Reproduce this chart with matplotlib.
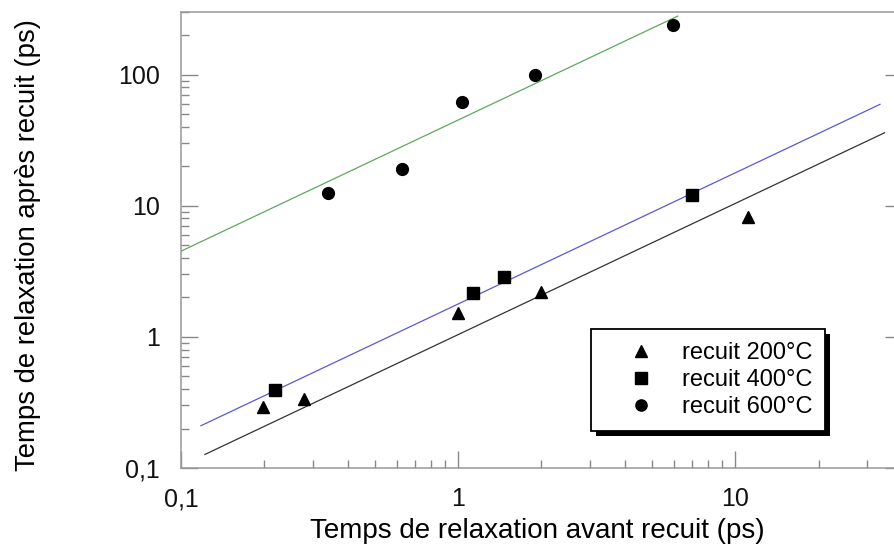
import numpy as np
import matplotlib
matplotlib.use("Agg")
import matplotlib.pyplot as plt
from matplotlib.ticker import LogLocator, FixedLocator, FixedFormatter, NullFormatter
from matplotlib.patches import Rectangle
from matplotlib.transforms import IdentityTransform

plt.rcParams["font.family"] = ["Liberation Sans", "DejaVu Sans"]

# temps de relaxation (ps) avant / après recuit
x_200 = [0.198, 0.279, 1.00, 2.00, 11.1]
y_200 = [0.29, 0.337, 1.51, 2.19, 8.17]

x_400 = [0.218, 1.13, 1.47, 7.01]
y_400 = [0.39, 2.17, 2.85, 12.05]

x_600 = [0.339, 0.628, 1.03, 1.90, 5.97]
y_600 = [12.4, 19.0, 62.0, 99.6, 238.0]

# droites y = a * x (pente 1 en log-log)
fit_x_200 = [0.122, 34.6]
fit_a_200 = 1.04
fit_x_400 = [0.118, 33.3]
fit_a_400 = 1.78
fit_x_600 = [0.1, 6.2]
fit_a_600 = 45.0

labels = ["recuit 200°C", "recuit 400°C", "recuit 600°C"]
x_ticks = [0.1, 1, 10]
x_ticklabels = ["0,1", "1", "10"]
y_ticks = [0.1, 1, 10, 100]
y_ticklabels = ["0,1", "1", "10", "100"]

W, H = 895, 551
fig = plt.figure(figsize=(W / 100, H / 100), dpi=100)
ax = fig.add_axes([181 / W, (H - 468) / H, 721 / W, 456 / H])

ax.set_xscale("log")
ax.set_yscale("log")
ax.set_xlim(0.1, 40)
ax.set_ylim(0.1, 300)

fx = np.array(fit_x_600)
ax.plot(fx, fit_a_600 * fx, color="#5fa85f", lw=0.9)
fx = np.array(fit_x_400)
ax.plot(fx, fit_a_400 * fx, color="#5a5ad0", lw=0.9)
fx = np.array(fit_x_200)
ax.plot(fx, fit_a_200 * fx, color="#333333", lw=0.9)

ms = 8.5
h1, = ax.plot(x_200, y_200, "^", color="black", ms=ms, ls="none", label=labels[0])
h2, = ax.plot(x_400, y_400, "s", color="black", ms=ms, ls="none", label=labels[1])
h3, = ax.plot(x_600, y_600, "o", color="black", ms=ms, ls="none", label=labels[2])

# axes et graduations
spine_col = "#999999"
for s in ax.spines.values():
    s.set_color(spine_col)
    s.set_linewidth(1.1)

ax.xaxis.set_major_locator(FixedLocator(x_ticks))
ax.xaxis.set_major_formatter(FixedFormatter(x_ticklabels))
ax.yaxis.set_major_locator(FixedLocator(y_ticks))
ax.yaxis.set_major_formatter(FixedFormatter(y_ticklabels))
ax.xaxis.set_minor_locator(LogLocator(base=10, subs=np.arange(2, 10)))
ax.yaxis.set_minor_locator(LogLocator(base=10, subs=np.arange(2, 10)))
ax.xaxis.set_minor_formatter(NullFormatter())
ax.yaxis.set_minor_formatter(NullFormatter())

ax.tick_params(which="both", direction="in", color="#888888", width=1.0,
               labelsize=18, labelcolor="#111111")
ax.tick_params(which="major", length=12)
ax.tick_params(which="minor", length=6)
ax.tick_params(axis="y", which="major", right=True, pad=15)
ax.tick_params(axis="x", which="major", pad=14)

ax.set_xlabel("Temps de relaxation avant recuit (ps)", fontsize=20)
ax.set_ylabel("Temps de relaxation après recuit (ps)", fontsize=19.8)
ax.xaxis.set_label_coords(0.494, -0.11)
ax.yaxis.set_label_coords(-0.194, 0.489)

leg = ax.legend(handles=[h1, h2, h3], loc="upper left",
                bbox_to_anchor=(0.5687, 0.3048), borderaxespad=0,
                fancybox=False, frameon=True, edgecolor="black",
                framealpha=1, fontsize=17, handlelength=3.1,
                handletextpad=0.2, borderpad=0.55, labelspacing=0.22,
                markerscale=0.95)
leg.get_frame().set_linewidth(1.3)
leg.set_zorder(6)

# ombre portée sous la légende
fig.canvas.draw()
bb = leg.get_window_extent()
shadow = Rectangle((bb.x0 + 5, bb.y0 - 5), bb.width, bb.height,
                   transform=IdentityTransform(), facecolor="black",
                   edgecolor="none", zorder=5.9, clip_on=False)
ax.add_artist(shadow)

fig.savefig("out.png", dpi=100)
